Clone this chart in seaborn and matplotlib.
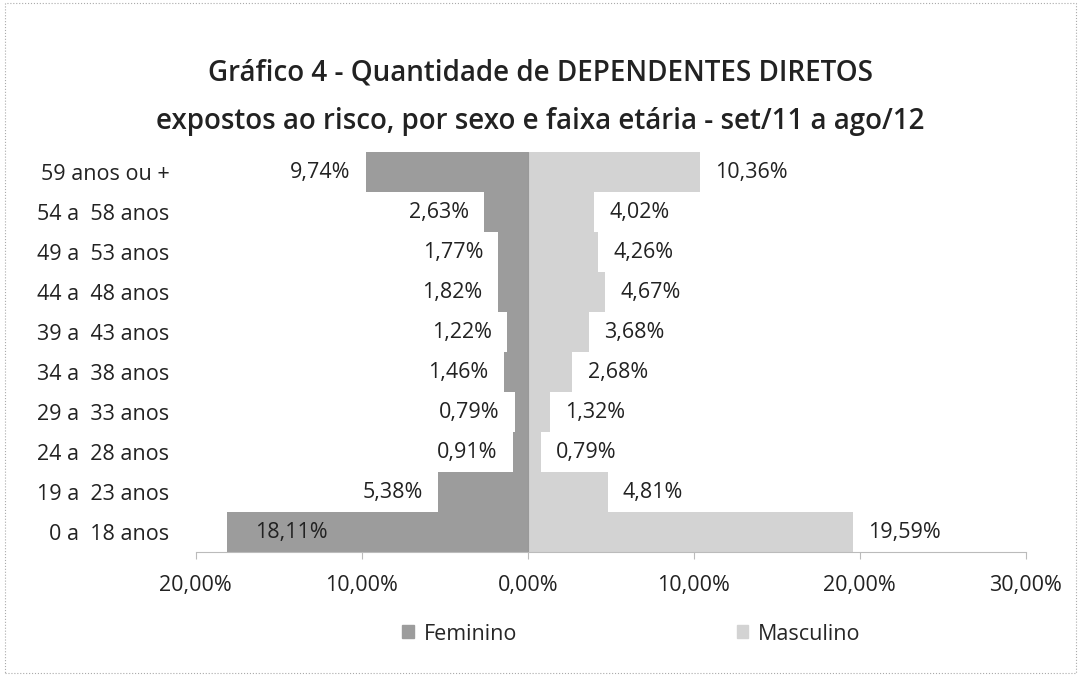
import matplotlib
matplotlib.use("Agg")
import matplotlib.pyplot as plt
import seaborn as sns
import pandas as pd
from matplotlib.patches import Rectangle, Patch

# dados
faixas = ["59 anos ou +", "54 a  58 anos", "49 a  53 anos", "44 a  48 anos",
          "39 a  43 anos", "34 a  38 anos", "29 a  33 anos", "24 a  28 anos",
          "19 a  23 anos", "0 a  18 anos"]
feminino = [9.74, 2.63, 1.77, 1.82, 1.22, 1.46, 0.79, 0.91, 5.38, 18.11]
masculino = [10.36, 4.02, 4.26, 4.67, 3.68, 2.68, 1.32, 0.79, 4.81, 19.59]
ticks = [-20, -10, 0, 10, 20, 30]
tick_labels = ["20,00%", "10,00%", "0,00%", "10,00%", "20,00%", "30,00%"]

cor_fem = "#9c9c9c"
cor_masc = "#d3d3d3"

df = pd.DataFrame({"faixa": faixas,
                   "fem": [-v for v in feminino],
                   "masc": masculino})

sns.set_style("white")
plt.rcParams["font.family"] = ["Open Sans", "DejaVu Sans"]

fig = plt.figure(figsize=(10.81, 6.76), dpi=100)
ax = fig.add_axes([0.181, 0.183, 0.768, 0.592])

sns.barplot(data=df, x="fem", y="faixa", order=faixas, color=cor_fem,
            width=1.0, orient="h", ax=ax, edgecolor="none")
sns.barplot(data=df, x="masc", y="faixa", order=faixas, color=cor_masc,
            width=1.0, orient="h", ax=ax, edgecolor="none")

fs = 15.5
ax.set_xlim(-20, 30)
ax.set_ylim(len(faixas) - 0.5, -0.5)
ax.set_xticks(ticks)
ax.set_xticklabels(tick_labels, fontsize=fs, color="#222222")
ax.set_xlabel("")
ax.set_ylabel("")
ax.tick_params(axis="x", length=5, color="#bbbbbb", pad=11, bottom=True)
ax.tick_params(axis="y", length=0, pad=19)
for lbl in ax.get_yticklabels():
    lbl.set_fontsize(fs)
    lbl.set_color("#222222")
for s in ["top", "right", "left"]:
    ax.spines[s].set_visible(False)
ax.spines["bottom"].set_color("#bbbbbb")
ax.spines["bottom"].set_linewidth(0.8)
ax.axvline(0, color="#999999", lw=0.8)

def fmt(v):
    return f"{v:.2f}".replace(".", ",") + "%"

for i, v in enumerate(feminino):
    if v > 15:
        ax.annotate(fmt(v), (-v, i), xytext=(20, 0), textcoords="offset points",
                    ha="left", va="center", fontsize=fs, color="#222222")
    else:
        ax.annotate(fmt(v), (-v, i), xytext=(-11, 0), textcoords="offset points",
                    ha="right", va="center", fontsize=fs, color="#222222")
for i, v in enumerate(masculino):
    ax.annotate(fmt(v), (v, i), xytext=(11, 0), textcoords="offset points",
                ha="left", va="center", fontsize=fs, color="#222222")

fig.text(0.5, 0.892, "Gráfico 4 - Quantidade de DEPENDENTES DIRETOS",
         ha="center", va="center", fontsize=20, fontweight="semibold", color="#222222")
fig.text(0.5, 0.82, "expostos ao risco, por sexo e faixa etária - set/11 a ago/12",
         ha="center", va="center", fontsize=20, fontweight="semibold", color="#222222")

handles = [Patch(color=cor_fem, label="Feminino"), Patch(color=cor_masc, label="Masculino")]
fig.legend(handles=handles, loc="center", bbox_to_anchor=(0.584, 0.062), ncol=2,
           frameon=False, fontsize=fs, handlelength=0.55, handleheight=0.55,
           columnspacing=10.2, handletextpad=0.45)

fig.patches.append(Rectangle((0.005, 0.005), 0.99, 0.99, transform=fig.transFigure,
                             fill=False, edgecolor="#aaaaaa", lw=0.8, ls=":"))

fig.savefig("out.png", dpi=100)
